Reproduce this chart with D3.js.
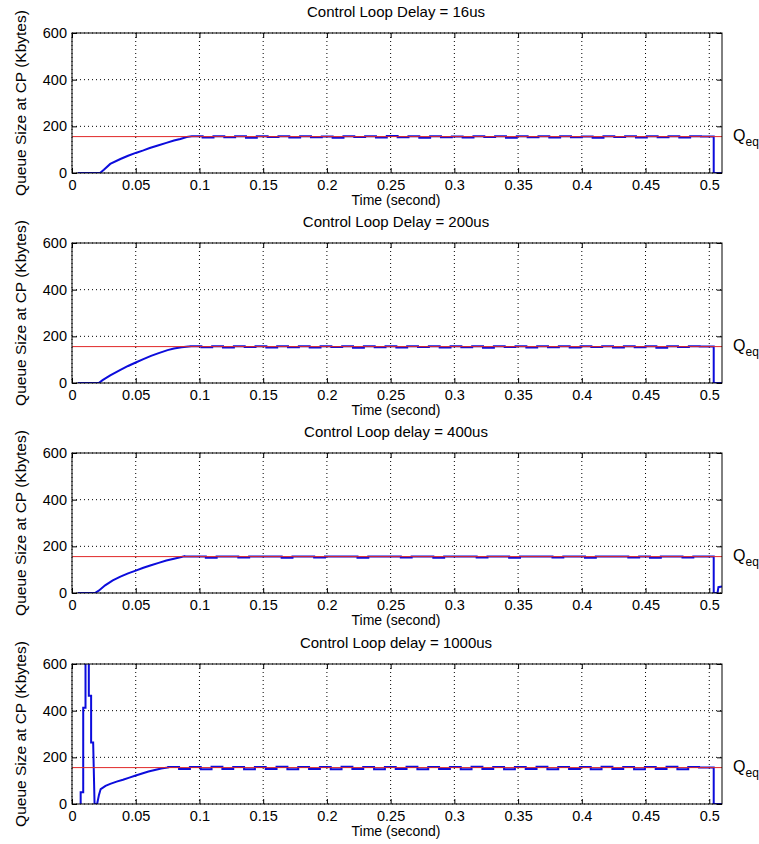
<!DOCTYPE html>
<html>
<head>
<meta charset="utf-8">
<script src="https://cdn.jsdelivr.net/npm/d3@7"></script>
<style>
  body { margin: 0; background: #fff; }
  text { font-family: "Liberation Sans", Arial, sans-serif; fill: #000; }
</style>
</head>
<body>
<script>
// ---- data ----
const titles = ["Control Loop Delay = 16us", "Control Loop Delay = 200us",
                "Control Loop delay = 400us", "Control Loop delay = 1000us"];
const xTicks = [0, 0.05, 0.1, 0.15, 0.2, 0.25, 0.3, 0.35, 0.4, 0.45, 0.5];
const yTicks = [0, 200, 400, 600];
const qEq = 156;

// start-up transients [time, queue]
const rise1 = [[0.0045,0],[0.022,0],[0.025,14],[0.03,39],[0.038,60],[0.044,74],[0.05,86],[0.056,97],
               [0.061,107],[0.068,119],[0.074,129],[0.08,139],[0.085,146],[0.09,154],[0.094,157]];
const rise2 = [[0.0045,0],[0.021,0],[0.024,12],[0.03,33],[0.038,56],[0.044,73],[0.05,88],[0.056,102],
               [0.062,116],[0.068,128],[0.075,141],[0.08,148],[0.086,153],[0.093,157]];
const rise3 = [[0.0045,0],[0.018,0],[0.021,10],[0.026,33],[0.032,54],[0.038,70],[0.044,84],[0.05,96],
               [0.056,108],[0.062,119],[0.068,129],[0.074,139],[0.08,147],[0.085,153],[0.088,157]];
const rise4 = [[0.0063,0],[0.0068,0],[0.0068,50],[0.0088,50],[0.0088,413],[0.0106,413],[0.0106,660],
               [0.0132,660],[0.0132,464],[0.015,464],[0.015,264],[0.0166,264],[0.0177,0],[0.0197,0],
               [0.0212,40],[0.0225,64],[0.0263,78],[0.03,86],[0.035,96],[0.04,104],[0.045,113],
               [0.05,122],[0.055,131],[0.06,139],[0.065,146],[0.07,152],[0.0755,157]];

// steady-state queue, one value per 8.5 ms step
const steadyStart = [0.094, 0.093, 0.088, 0.0755];
const steadyStep = 0.0085;
const steady1 = [157,152,158,153,157,151,158,154,157,152,158,153,156,151,158,154,157,152,159,153,157,151,158,153,
                 156,152,158,154,157,151,158,153,157,152,158,153,156,151,158,154,157,152,158,153,157,152,158,156];
const steady2 = [158,153,157,152,158,154,157,152,158,153,157,152,158,154,157,151,158,153,157,152,158,154,157,152,
                 158,153,157,151,158,154,157,152,158,153,157,152,158,154,157,152,158,153,157,151,158,154,157,156];
const steady3 = [156,156,151,156,156,152,156,156,156,151,156,156,152,156,156,156,151,156,156,156,152,156,156,151,
                 156,156,156,152,156,156,151,156,156,156,152,156,156,151,156,156,156,152,156,151,156,156,152,156];
const steady4 = [159,150,159,149,160,150,159,149,159,150,160,149,159,150,159,149,160,150,159,149,159,150,160,149,
                 159,150,159,149,160,150,159,149,159,150,160,149,159,150,159,149,160,150,159,149,159,150,160,149,159,156];

// end of run: queue drains
const dropT = 0.5035;
const end1 = [[dropT,0],[0.51,0]];
const end2 = [[dropT,0],[0.51,0]];
const end3 = [[dropT,0],[0.5065,0],[0.5072,25],[0.51,28]];
const end4 = [[dropT,0],[0.51,0]];

const rises = [rise1, rise2, rise3, rise4];
const steadies = [steady1, steady2, steady3, steady4];
const ends = [end1, end2, end3, end4];

// ---- layout ----
const W = 759, H = 844;
const left = 72, right = 722;
const tops = [33, 243, 453, 664];
const ph = 140;

const svg = d3.select("body").append("svg")
    .attr("width", W).attr("height", H)
    .attr("viewBox", `0 0 ${W} ${H}`);

const x = d3.scaleLinear().domain([0, 0.51]).range([left, right]);
const y = d3.scaleLinear().domain([0, 600]).range([ph, 0]);

function series(i) {
  const pts = rises[i].slice();
  const vals = steadies[i];
  for (let k = 0; k < vals.length; k++) {
    const t0 = steadyStart[i] + k * steadyStep;
    if (t0 >= dropT) break;
    const t1 = k === vals.length - 1 ? dropT : Math.min(t0 + steadyStep, dropT);
    pts.push([t0, vals[k]], [t1, vals[k]]);
  }
  return pts.concat(ends[i]);
}

const line = d3.line().x(d => x(d[0])).y(d => y(d[1]));

tops.forEach((top, i) => {
  const g = svg.append("g").attr("transform", `translate(0,${top})`);

  g.append("clipPath").attr("id", "clip" + i)
    .append("rect").attr("x", left).attr("y", 0).attr("width", right - left).attr("height", ph);

  // dotted grid
  g.append("g").selectAll("line").data(xTicks).join("line")
    .attr("x1", d => x(d)).attr("x2", d => x(d)).attr("y1", 0).attr("y2", ph)
    .attr("stroke", "#000").attr("stroke-width", 1).attr("stroke-dasharray", "1,3");
  g.append("g").selectAll("line").data(yTicks).join("line")
    .attr("x1", left).attr("x2", right).attr("y1", d => y(d)).attr("y2", d => y(d))
    .attr("stroke", "#000").attr("stroke-width", 1).attr("stroke-dasharray", "1,3");

  // queue trace
  g.append("path").datum(series(i))
    .attr("clip-path", `url(#clip${i})`)
    .attr("d", line)
    .attr("fill", "none").attr("stroke", "#0c0cdc").attr("stroke-width", 2);

  // equilibrium line
  g.append("line")
    .attr("x1", left).attr("x2", right).attr("y1", y(qEq)).attr("y2", y(qEq))
    .attr("stroke", "#e02828").attr("stroke-width", 1);

  // box and axes (ticks inside)
  g.append("rect").attr("x", left).attr("y", 0).attr("width", right - left).attr("height", ph)
    .attr("fill", "none").attr("stroke", "#000");

  g.append("g").attr("transform", `translate(0,${ph})`)
    .call(d3.axisBottom(x).tickValues(xTicks).tickFormat(d3.format("~g")).tickSizeInner(-5).tickSizeOuter(0).tickPadding(7));
  g.append("g").call(d3.axisTop(x).tickValues(xTicks).tickFormat("").tickSizeInner(-5).tickSizeOuter(0));
  g.append("g").attr("transform", `translate(${left},0)`)
    .call(d3.axisLeft(y).tickValues(yTicks).tickSizeInner(-5).tickSizeOuter(0).tickPadding(5));
  g.append("g").attr("transform", `translate(${right},0)`)
    .call(d3.axisRight(y).tickValues(yTicks).tickFormat("").tickSizeInner(-5).tickSizeOuter(0));
  g.selectAll(".domain").remove();
  g.selectAll(".tick text").attr("font-size", 14.5).attr("font-family", null);

  // titles and labels
  g.append("text").attr("x", (left + right) / 2 - 1).attr("y", -16)
    .attr("text-anchor", "middle").attr("font-size", 15).text(titles[i]);
  g.append("text").attr("x", (left + right) / 2 - 1).attr("y", ph + 32)
    .attr("text-anchor", "middle").attr("font-size", 14).text("Time (second)");
  g.append("text")
    .attr("transform", `translate(26,${ph / 2}) rotate(-90)`)
    .attr("text-anchor", "middle").attr("font-size", 15.5).text("Queue Size at CP (Kbytes)");

  const q = g.append("text").attr("x", 733).attr("y", y(qEq) + 4).attr("font-size", 16);
  q.append("tspan").text("Q");
  q.append("tspan").attr("dy", 5).attr("font-size", 12).text("eq");
});
</script>
</body>
</html>
